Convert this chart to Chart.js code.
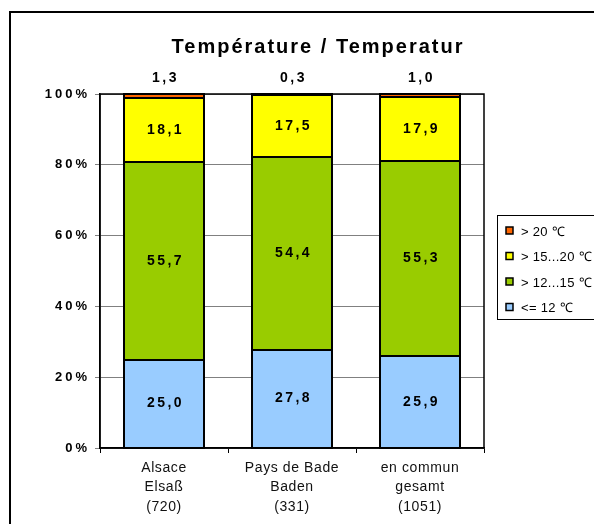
<!DOCTYPE html>
<html>
<head>
<meta charset="utf-8">
<script src="https://cdn.jsdelivr.net/npm/chart.js@4/dist/chart.umd.min.js"></script>
<style>
  html, body { margin: 0; padding: 0; background: #fff; }
  canvas { display: block; }
</style>
</head>
<body>
<canvas id="tempChart" width="594" height="524"></canvas>
<script>
// =========================
// DATA
// =========================

const categories = [
  ['Alsace', 'Elsaß', '(720)'],
  ['Pays de Bade', 'Baden', '(331)'],
  ['en commun', 'gesamt', '(1051)']
];

const seriesNames = ['<= 12 ℃', '> 12...15 ℃', '> 15...20 ℃', '> 20 ℃'];

const below12 = [25.0, 27.8, 25.9];
const from12to15 = [55.7, 54.4, 55.3];
const from15to20 = [18.1, 17.5, 17.9];
const above20 = [1.3, 0.3, 1.0];

const yTicks = [0, 20, 40, 60, 80, 100];

const chartTitle = 'Température / Temperatur';

const FONT = '"Liberation Sans", Arial, sans-serif';


// =========================
// PLUGINS
// =========================

// white page + outer frame
const framePlugin = {
  id: 'frame',
  beforeDraw(chart) {
    const ctx = chart.ctx;
    ctx.save();
    ctx.fillStyle = '#fff';
    ctx.fillRect(0, 0, chart.width, chart.height);
    ctx.strokeStyle = '#000';
    ctx.lineWidth = 2;
    ctx.strokeRect(10, 12, chart.width + 20, chart.height + 20);
    ctx.restore();

    // wider letters on the axis labels, like the original
    const y = chart.scales.y;
    if (y && !y._spaced) {
      const orig = y.drawLabels;
      y.drawLabels = function (area) {
        this.ctx.save();
        this.ctx.letterSpacing = '3px';
        orig.call(this, area);
        this.ctx.restore();
      };
      y._spaced = true;
    }
    const x = chart.scales.x;
    if (x && !x._spaced) {
      const origX = x.drawLabels;
      x.drawLabels = function (area) {
        this.ctx.save();
        this.ctx.letterSpacing = '0.6px';
        origX.call(this, area);
        this.ctx.restore();
      };
      x._spaced = true;
    }
  },
  afterDraw(chart) {
    const ctx = chart.ctx;
    const a = chart.chartArea;

    // plot border
    ctx.save();
    ctx.strokeStyle = '#000';
    ctx.lineWidth = 1.5;
    ctx.strokeRect(a.left, a.top, a.right - a.left, a.bottom - a.top);

    // title
    ctx.fillStyle = '#000';
    ctx.font = 'bold 20px ' + FONT;
    ctx.letterSpacing = '2px';
    ctx.textAlign = 'center';
    ctx.textBaseline = 'alphabetic';
    ctx.fillText(chartTitle, 318, 53);
    ctx.restore();
  }
};

// black outline round every bar segment + value labels
const valuePlugin = {
  id: 'values',
  afterDatasetsDraw(chart) {
    const ctx = chart.ctx;
    ctx.save();

    ctx.strokeStyle = '#000';
    ctx.lineWidth = 2;
    chart.data.datasets.forEach((ds, i) => {
      chart.getDatasetMeta(i).data.forEach(bar => {
        const left = Math.round(bar.x - bar.width / 2);
        const right = Math.round(bar.x + bar.width / 2);
        const top = Math.round(bar.y);
        const bottom = Math.round(bar.base);
        ctx.strokeRect(left, top, right - left, bottom - top);
      });
    });

    ctx.fillStyle = '#000';
    ctx.font = 'bold 14px ' + FONT;
    ctx.letterSpacing = '2.5px';
    ctx.textAlign = 'center';
    ctx.textBaseline = 'middle';

    chart.data.datasets.forEach((ds, i) => {
      const meta = chart.getDatasetMeta(i);
      meta.data.forEach((bar, j) => {
        const txt = ds.data[j].toFixed(1).replace('.', ',');
        let yPos = (bar.y + bar.base) / 2;
        if (i === chart.data.datasets.length - 1) {
          yPos = chart.chartArea.top - 16;
        }
        ctx.fillText(txt, bar.x + 1.5, yPos);
      });
    });
    ctx.restore();
  }
};

// legend box on the right
const legendPlugin = {
  id: 'sideLegend',
  afterDraw(chart) {
    const ctx = chart.ctx;
    const ds = chart.data.datasets;
    ctx.save();
    ctx.strokeStyle = '#000';
    ctx.lineWidth = 1;
    ctx.strokeRect(497.5, 215.5, 120, 104);

    ctx.font = '13px ' + FONT;
    ctx.letterSpacing = '0.3px';
    ctx.textBaseline = 'middle';
    ctx.textAlign = 'left';

    const order = ds.map((d, i) => i).reverse();
    order.forEach((idx, k) => {
      const yMid = 231 + k * 25.5;
      ctx.fillStyle = ds[idx].backgroundColor;
      ctx.fillRect(506, yMid - 4, 7, 7);
      ctx.strokeStyle = '#000';
      ctx.lineWidth = 1.5;
      ctx.strokeRect(506, yMid - 4, 7, 7);
      ctx.fillStyle = '#000';
      ctx.fillText(ds[idx].label, 521, yMid + 1);
    });
    ctx.restore();
  }
};


// =========================
// CHART
// =========================

const ctx = document.getElementById('tempChart');

const makeSet = (label, data, color) => ({
  label: label,
  data: data,
  backgroundColor: color,
  borderWidth: 0,
  inflateAmount: 0,
  barPercentage: 0.625,
  categoryPercentage: 1
});

new Chart(ctx, {
  type: 'bar',
  data: {
    labels: categories,
    datasets: [
      makeSet(seriesNames[0], below12, '#99ccff'),
      makeSet(seriesNames[1], from12to15, '#99cc00'),
      makeSet(seriesNames[2], from15to20, '#ffff00'),
      makeSet(seriesNames[3], above20, '#ff6600')
    ]
  },
  options: {
    responsive: false,
    animation: false,
    devicePixelRatio: 1,
    layout: {
      padding: { left: 0, top: 94, right: 110, bottom: 0 }
    },
    plugins: {
      legend: { display: false },
      title: { display: false },
      tooltip: { enabled: false }
    },
    scales: {
      x: {
        stacked: true,
        afterFit(scale) { scale.height = 76; },
        grid: {
          offset: true,
          drawOnChartArea: false,
          color: '#000',
          tickLength: 5
        },
        border: { color: '#000', width: 1.5 },
        ticks: {
          color: '#111',
          font: { family: FONT, size: 14, lineHeight: 1.4 },
          padding: 5,
          maxRotation: 0,
          autoSkip: false
        }
      },
      y: {
        stacked: true,
        min: 0,
        max: 100,
        afterFit(scale) { scale.width = 100; },
        afterBuildTicks(scale) {
          scale.ticks = yTicks.map(v => ({ value: v }));
        },
        grid: {
          color: '#808080',
          lineWidth: 1,
          tickLength: 5
        },
        border: { color: '#000', width: 1.5 },
        ticks: {
          color: '#000',
          font: { family: FONT, size: 13, weight: 'bold' },
          padding: 5,
          callback: v => v + '%'
        }
      }
    }
  },
  plugins: [framePlugin, valuePlugin, legendPlugin]
});
</script>
</body>
</html>
